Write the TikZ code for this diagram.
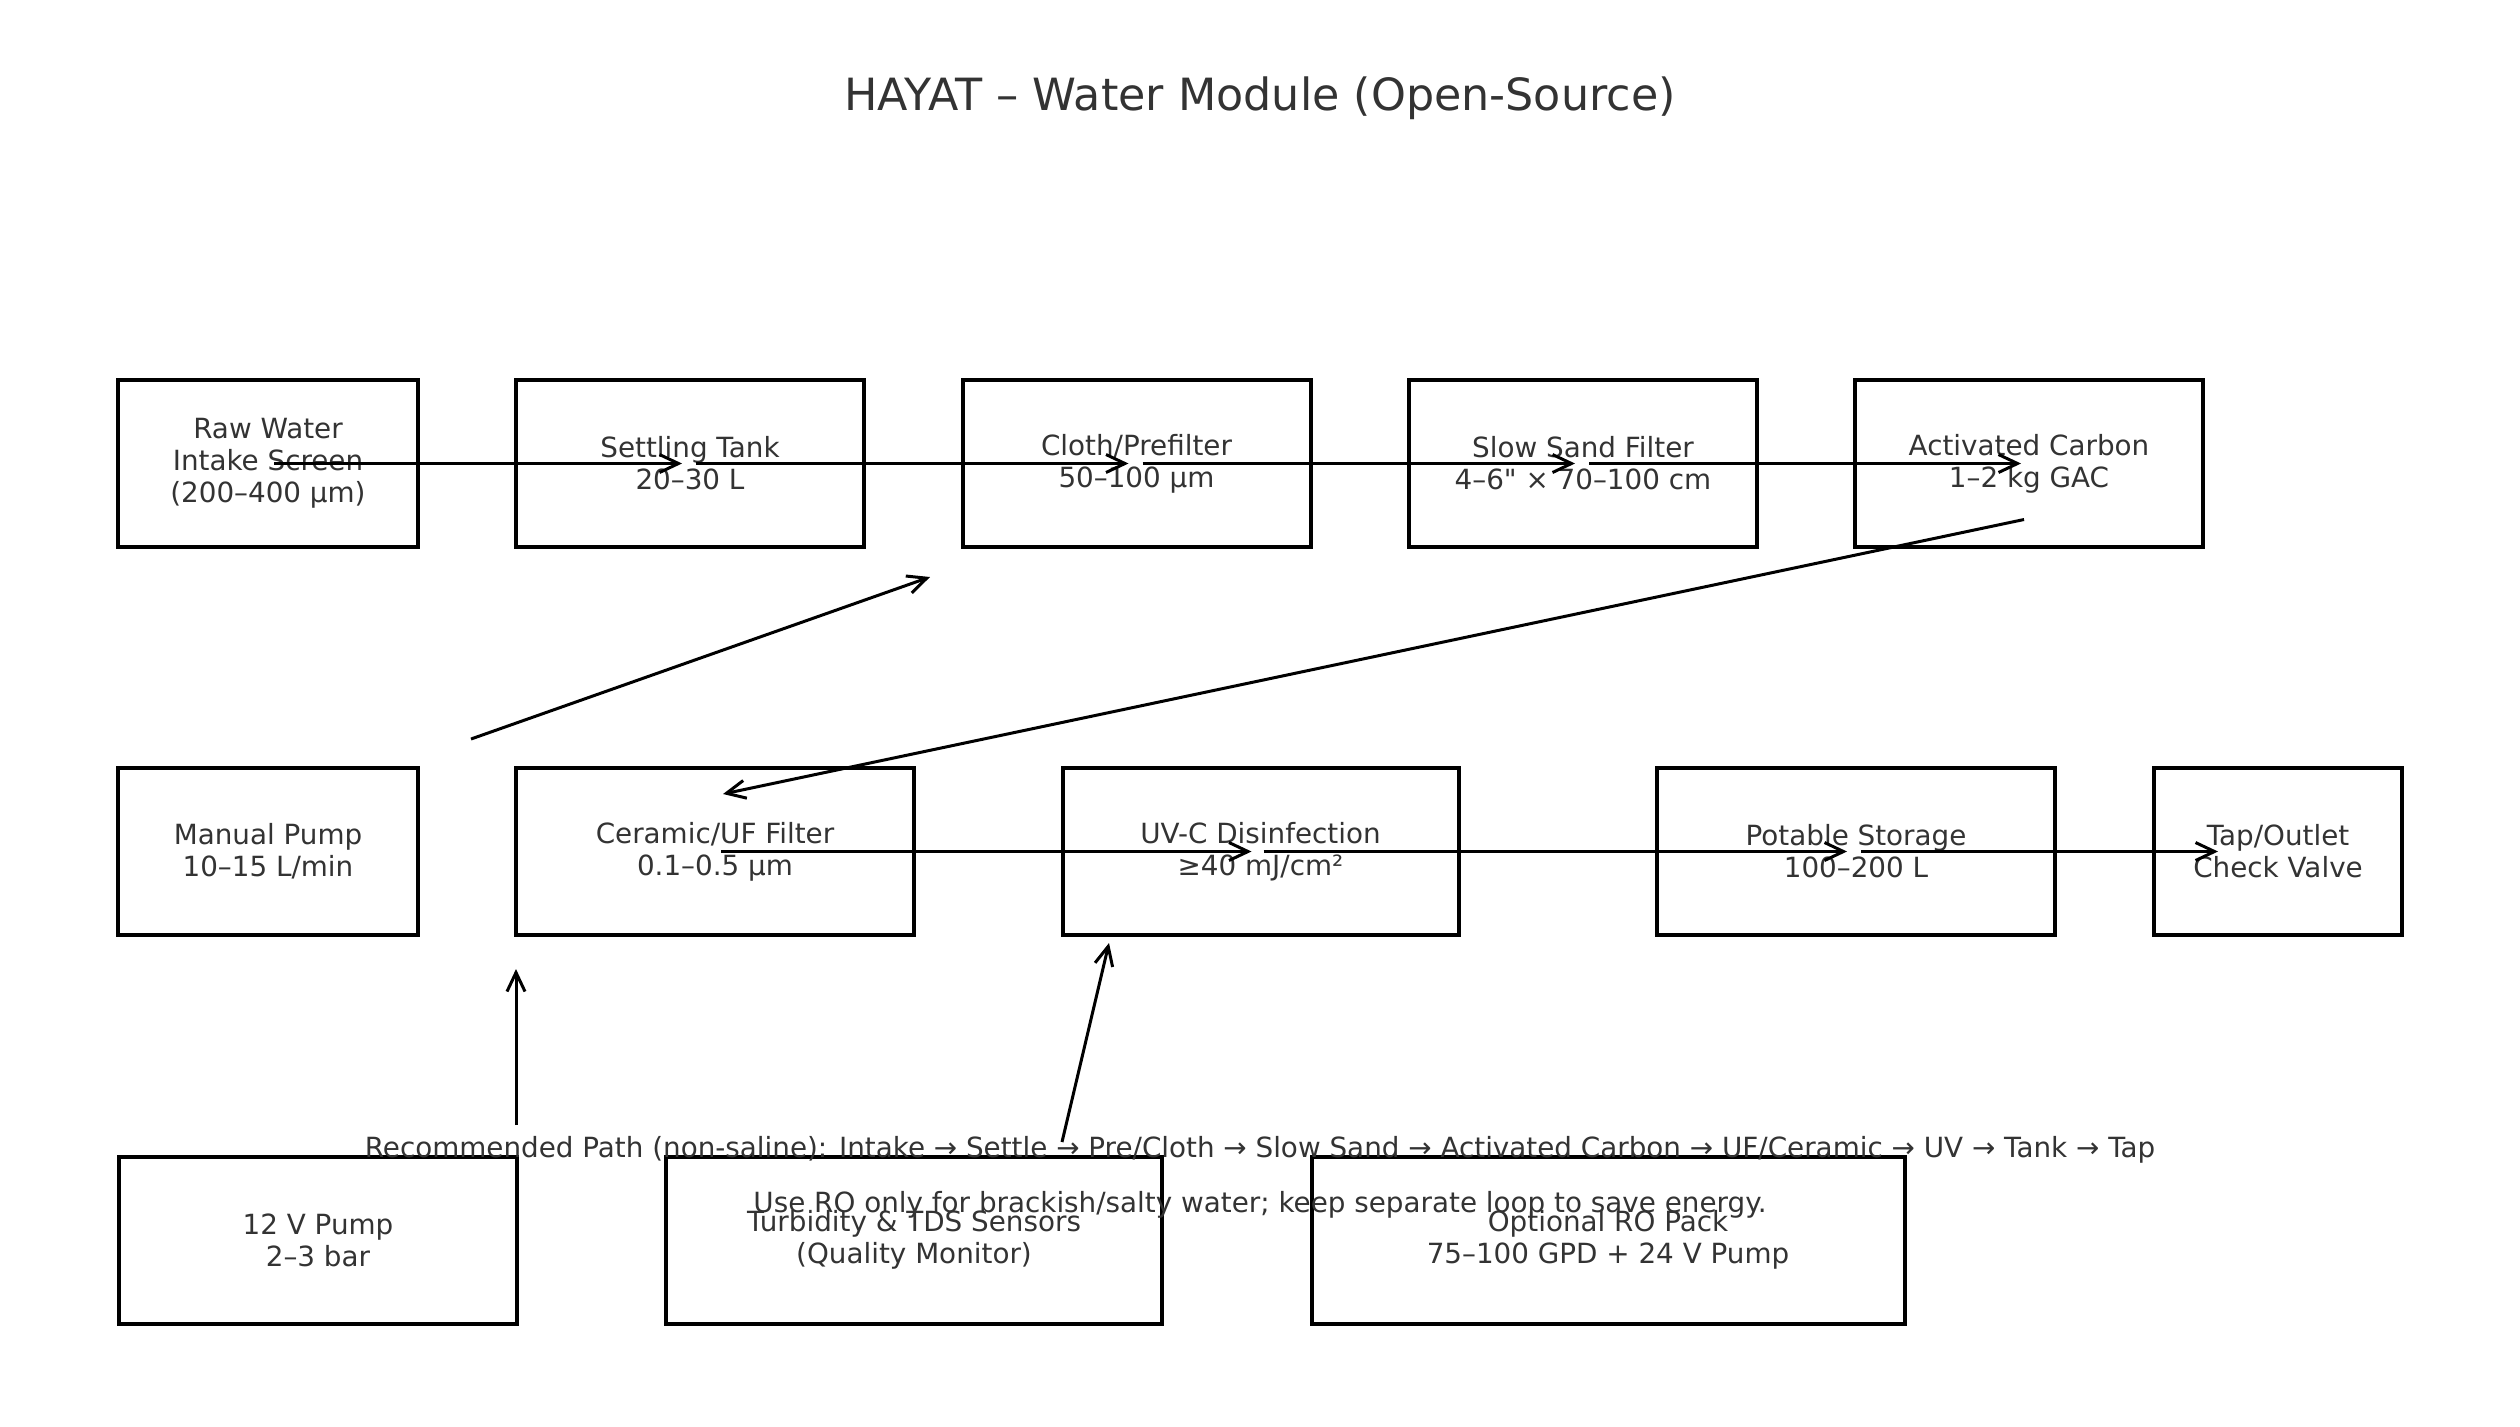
\documentclass[tikz,border=0pt]{standalone}
\usepackage{fontspec}
\setmainfont{DejaVu Sans}[Ligatures=TeXOff]
\usetikzlibrary{arrows.meta}
\definecolor{inkgray}{RGB}{51,51,51}

\begin{document}
\begin{tikzpicture}[x=0.5pt,y=0.5pt,yscale=-1,xscale=1,
  stage/.style={draw=black,line width=2pt,inner sep=0pt,align=center,text=inkgray,minimum height=83.5pt,font=\fontsize{13.9}{16}\selectfont},
  flow/.style={draw=black,line width=1.5pt,-{Straight Barb[length=9.5pt,width=9pt]}},
  note/.style={inner sep=0pt,text=inkgray,font=\fontsize{13.9}{16}\selectfont}]
\useasboundingbox (0,0) rectangle (2520,1426);

% Text Node
\node (title) at (1260,98) [text=inkgray,font=\fontsize{22.2}{27}\selectfont] {HAYAT – Water Module (Open-Source)};

%Shape: Rectangle -- row 1
\node (raw) at (268,463.5) [stage,minimum width=150pt] {Raw Water\\Intake Screen\\(200–400 µm)};
\node (settle) at (690,463.5) [stage,minimum width=174pt] {Settling Tank\\20–30 L};
\node (cloth) at (1136.5,463.5) [stage,minimum width=174pt] {Cloth/Prefilter\\50–100 µm};
\node (sand) at (1583,463.5) [stage,minimum width=174pt] {Slow Sand Filter\\4–6" × 70–100 cm};
\node (carbon) at (2029,463.5) [stage,minimum width=174pt] {Activated Carbon\\1–2 kg GAC};

%Shape: Rectangle -- row 2
\node (manual) at (268,851.5) [stage,minimum width=150pt] {Manual Pump\\10–15 L/min};
\node (ceramic) at (715,851.5) [stage,minimum width=199pt] {Ceramic/UF Filter\\0.1–0.5 µm};
\node (uvc) at (1260.5,851.5) [stage,minimum width=198pt] {UV-C Disinfection\\≥40 mJ/cm²};
\node (storage) at (1856,851.5) [stage,minimum width=199pt] {Potable Storage\\100–200 L};
\node (tap) at (2278,851.5) [stage,minimum width=124pt] {Tap/Outlet\\Check Valve};

%Shape: Rectangle -- row 3
\node (pump) at (318,1240) [stage,minimum width=199pt] {12 V Pump\\2–3 bar};
\node (sensors) at (914,1240) [stage,minimum width=248pt] {Turbidity \& TDS Sensors\\(Quality Monitor)};
\node (ropack) at (1608,1240) [stage,minimum width=296.5pt] {Optional RO Pack\\75–100 GPD + 24 V Pump};

% Text Node
\node (path) at (1260,1150) [note] {Recommended Path (non-saline): Intake → Settle → Pre/Cloth → Slow Sand → Activated Carbon → UF/Ceramic → UV → Tank → Tap};
\node (hint) at (1260,1205) [note] {Use RO only for brackish/salty water; keep separate loop to save energy.};

\coordinate (loopa) at (471,739);
\coordinate (loopb) at (930,577);

%Straight Lines
\draw [flow] ([xshift=3pt]raw.center) -- ([xshift=-4pt]settle.center);
\draw [flow] ([xshift=3pt]settle.center) -- ([xshift=-4pt]cloth.center);
\draw [flow] ([xshift=3pt]cloth.center) -- ([xshift=-4pt]sand.center);
\draw [flow] ([xshift=3pt]sand.center) -- ([xshift=-4pt]carbon.center);
\draw [flow] ([shift={(-5,56)}]carbon.center) -- ([shift={(8,-57.5)}]ceramic.center);
\draw [flow] (loopa) -- (loopb);
\draw [flow] ([xshift=3pt]ceramic.center) -- ([xshift=-4.5pt]uvc.center);
\draw [flow] ([xshift=1.5pt]uvc.center) -- ([xshift=-4.5pt]storage.center);
\draw [flow] ([xshift=2.5pt]storage.center) -- ([xshift=33pt]tap.west);
\draw [flow] ([shift={(198,-115)}]pump.center) -- ([shift={(-199,117.5)}]ceramic.center);
\draw [flow] ([shift={(-198.5,290.5)}]uvc.center) -- ([shift={(-151.5,91.5)}]uvc.center);

\end{tikzpicture}
\end{document}
